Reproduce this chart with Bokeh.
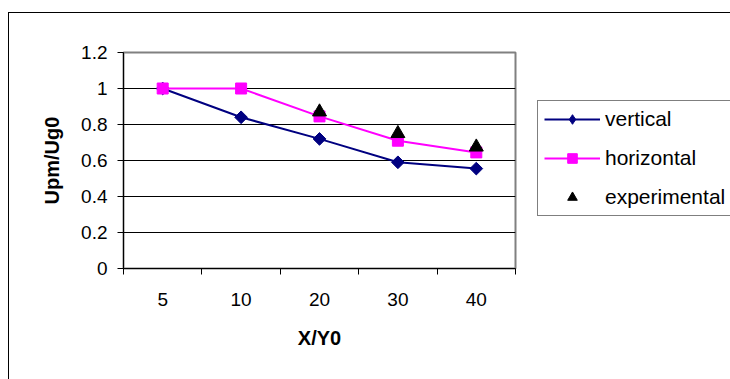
import math
from bokeh.plotting import figure
from bokeh.models import FixedTicker, Legend, LegendItem, Range1d, CustomJSTickFormatter
from bokeh.embed import file_html
from bokeh.resources import INLINE

# ---- data ----
x_labels = ["5", "10", "20", "30", "40"]
vertical = [1.0, 0.84, 0.72, 0.59, 0.555]
horizontal = [1.0, 1.0, 0.845, 0.71, 0.645]
experimental_x = ["20", "30", "40"]
experimental = [0.87, 0.75, 0.675]
y_ticks = [0, 0.2, 0.4, 0.6, 0.8, 1.0, 1.2]
y_tick_labels = ["0", "0.2", "0.4", "0.6", "0.8", "1", "1.2"]

# category centre positions on a numeric axis (ticks fall between categories)
xpos = {lab: i + 0.5 for i, lab in enumerate(x_labels)}
vx = [xpos[l] for l in x_labels]
ex = [xpos[l] for l in experimental_x]

FONT = "Liberation Sans"

p = figure(frame_width=392, frame_height=216, output_backend="svg", toolbar_location=None,
           x_range=Range1d(0, len(x_labels)), y_range=Range1d(y_ticks[0], y_ticks[-1]),
           min_border_left=114, min_border_right=215, min_border_top=39, min_border_bottom=111,
           x_axis_label="X/Y0", y_axis_label="Upm/Ug0")
p.margin = (12, 0, 0, 8)
p.styles = {"border-left": "1px solid #000", "border-top": "1px solid #000"}
p.background_fill_color = "white"
p.border_fill_color = "white"
p.outline_line_color = "#808080"
p.outline_line_width = 2

# x axis
xa = p.xaxis[0]
xa.ticker = FixedTicker(ticks=vx, minor_ticks=list(range(len(x_labels) + 1)))
xa.formatter = CustomJSTickFormatter(args=dict(xlabs=x_labels),
                                     code="return xlabs[Math.floor(tick)];")
xa.major_tick_out = 0
xa.major_tick_in = 0
xa.minor_tick_out = 6
xa.minor_tick_in = 0
xa.minor_tick_line_color = "black"
xa.major_label_standoff = 18
xa.axis_label_standoff = 18

# y axis
ya = p.yaxis[0]
ya.ticker = FixedTicker(ticks=y_ticks, minor_ticks=[])
ya.formatter = CustomJSTickFormatter(
    args=dict(yt=y_ticks, yl=y_tick_labels),
    code="""
let best = 0;
for (let i = 0; i < yt.length; i++) {
  if (Math.abs(yt[i] - tick) < Math.abs(yt[best] - tick)) best = i;
}
return yl[best];
""")
ya.major_tick_out = 6
ya.major_tick_in = 0
ya.major_label_standoff = 10
ya.axis_label_standoff = 15

for ax in (xa, ya):
    ax.axis_line_color = "black"
    ax.axis_line_width = 1
    ax.major_tick_line_color = "black"
    ax.major_label_text_font = FONT
    ax.major_label_text_font_size = "19px"
    ax.major_label_text_color = "black"
    ax.axis_label_text_font = FONT
    ax.axis_label_text_font_size = "20px"
    ax.axis_label_text_font_style = "bold"
    ax.axis_label_text_color = "black"

p.xgrid.visible = False
p.ygrid.grid_line_color = "black"
p.ygrid.grid_line_width = 1

NAVY = "#000080"
MAGENTA = "#FF00FF"

# series
r1l = p.line(vx, vertical, line_color=NAVY, line_width=2)
# legend proxy (diamond shape, hidden under the rotated squares)
r1p = p.scatter(vx, vertical, marker="diamond", size=9, fill_color=NAVY, line_color=NAVY)
r1m = p.scatter(vx, vertical, marker="square", angle=math.pi / 4, size=9,
                fill_color=NAVY, line_color=NAVY)
r2l = p.line(vx, horizontal, line_color=MAGENTA, line_width=2)
r2m = p.scatter(vx, horizontal, marker="square", size=11,
                fill_color=MAGENTA, line_color=MAGENTA)
r3 = p.scatter(ex, experimental, marker="triangle", size=14,
               fill_color="black", line_color="black")

legend = Legend(items=[
    LegendItem(label="vertical", renderers=[r1l, r1p]),
    LegendItem(label="horizontal", renderers=[r2l, r2m]),
    LegendItem(label="experimental", renderers=[r3]),
], location=(22, 52))
legend.border_line_color = "black"
legend.border_line_width = 1
legend.background_fill_color = "white"
legend.background_fill_alpha = 1
legend.label_text_font = FONT
legend.label_text_font_size = "21px"
legend.label_text_color = "black"
legend.glyph_width = 56
legend.glyph_height = 24
legend.label_height = 24
legend.label_width = 135
legend.label_standoff = 5
legend.spacing = 15
legend.padding = 6
legend.margin = 0
p.add_layout(legend, "right")

open("out.html", "w").write(file_html(p, INLINE))
